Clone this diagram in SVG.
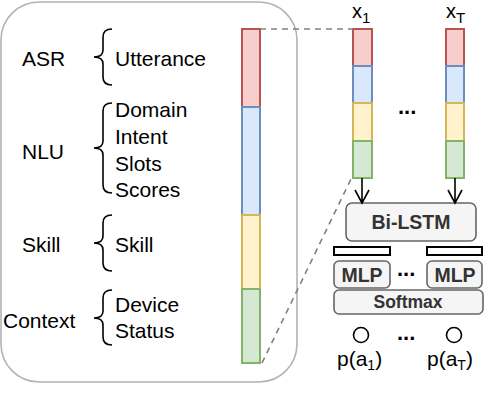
<svg xmlns="http://www.w3.org/2000/svg" width="484" height="416" viewBox="0 0 484 416">
<style>
text{font-family:"Liberation Sans",Arial,sans-serif;fill:#000}
.lbl{font-size:21px}
.xl{font-size:20px}
.b{font-weight:bold;fill:#333}
.red{fill:#f8cecc;stroke:#b85450;stroke-width:2}
.blue{fill:#dae8fc;stroke:#6c8ebf;stroke-width:2}
.yel{fill:#fff2cc;stroke:#d6b656;stroke-width:2}
.grn{fill:#d5e8d4;stroke:#82b366;stroke-width:2}
.brace{fill:none;stroke:#000;stroke-width:1.6}
.gbox{fill:#f5f5f5;stroke:#666;stroke-width:1.6}
.dash{fill:none;stroke:#808080;stroke-width:1.6;stroke-dasharray:6 5}
.arrow{fill:none;stroke:#000;stroke-width:1.6}
.dots{font-size:22px;font-weight:bold}
</style>

<g id="features">
<rect x="1" y="2" width="296" height="380" rx="38" ry="38" fill="#fff" stroke="#b3b3b3" stroke-width="1.6"/>
<text class="lbl" x="22" y="66">ASR</text>
<text class="lbl" x="22" y="159">NLU</text>
<text class="lbl" x="22" y="252">Skill</text>
<text class="lbl" x="3" y="328">Context</text>
<path class="brace" d="M112,29 Q103,29 103,37 L103,50 Q103,57 94,57 Q103,57 103,64 L103,77 Q103,85 112,85"/>
<path class="brace" d="M112,103 Q103,103 103,111 L103,141 Q103,148 94,148 Q103,148 103,155 L103,185 Q103,193 112,193"/>
<path class="brace" d="M112,215 Q103,215 103,223 L103,236 Q103,243 94,243 Q103,243 103,250 L103,263 Q103,271 112,271"/>
<path class="brace" d="M112,290 Q103,290 103,298 L103,311 Q103,318 94,318 Q103,318 103,325 L103,337 Q103,345 112,345"/>
<text class="lbl" x="115" y="66">Utterance</text>
<text class="lbl" x="115" y="117">Domain</text>
<text class="lbl" x="115" y="144">Intent</text>
<text class="lbl" x="115" y="171">Slots</text>
<text class="lbl" x="115" y="197">Scores</text>
<text class="lbl" x="115" y="252">Skill</text>
<text class="lbl" x="115" y="312">Device</text>
<text class="lbl" x="115" y="338">Status</text>
</g>

<g id="vector">
<rect class="red" x="242" y="29" width="18" height="78"/>
<rect class="blue" x="242" y="107" width="18" height="108"/>
<rect class="yel" x="242" y="215" width="18" height="74"/>
<rect class="grn" x="242" y="289" width="18" height="74"/>
</g>

<g id="x1">
<rect class="red" x="353" y="29" width="19" height="37"/>
<rect class="blue" x="353" y="66" width="19" height="37"/>
<rect class="yel" x="353" y="103" width="19" height="38"/>
<rect class="grn" x="353" y="141" width="19" height="37"/>
<text class="xl" x="352" y="18">x<tspan font-size="15" dy="5">1</tspan></text>
</g>

<g id="xT">
<rect class="red" x="446" y="29" width="18" height="37"/>
<rect class="blue" x="446" y="66" width="18" height="37"/>
<rect class="yel" x="446" y="103" width="18" height="38"/>
<rect class="grn" x="446" y="141" width="18" height="37"/>
<text class="xl" x="446" y="18">x<tspan font-size="15" dy="5">T</tspan></text>
</g>

<g id="dots">
<text class="dots" x="398" y="114">...</text>
<text class="dots" x="397" y="276">...</text>
<text class="dots" x="397" y="340">...</text>
</g>

<g id="bilstm">
<rect class="gbox" x="346" y="203" width="130" height="38" rx="6"/>
<text class="b" x="411" y="229" font-size="19.5" text-anchor="middle">Bi-LSTM</text>
</g>

<g id="hidden">
<rect x="334" y="247" width="56" height="8" fill="#fff" stroke="#000" stroke-width="2"/>
<rect x="427" y="247" width="55" height="8" fill="#fff" stroke="#000" stroke-width="2"/>
</g>

<g id="mlp1">
<rect class="gbox" x="334" y="261" width="56" height="27" rx="5"/>
<text class="b" x="362" y="282" font-size="19.5" text-anchor="middle">MLP</text>
</g>
<g id="mlp2">
<rect class="gbox" x="427" y="261" width="55" height="27" rx="5"/>
<text class="b" x="455" y="282" font-size="19.5" text-anchor="middle">MLP</text>
</g>

<g id="softmax">
<rect class="gbox" x="334" y="290" width="149" height="24" rx="5"/>
<text class="b" x="408" y="308" font-size="17.5" text-anchor="middle">Softmax</text>
</g>

<g id="out1">
<circle cx="361" cy="335" r="7.5" fill="#fff" stroke="#000" stroke-width="1.6"/>
<text class="lbl" x="337" y="366">p(a<tspan font-size="14" dy="4">1</tspan><tspan dy="-4">)</tspan></text>
</g>
<g id="outT">
<circle cx="454" cy="335" r="7.5" fill="#fff" stroke="#000" stroke-width="1.6"/>
<text class="lbl" x="427" y="366">p(a<tspan font-size="14" dy="4">T</tspan><tspan dy="-4">)</tspan></text>
</g>

<g id="connectors">
<path class="dash" d="M260,29 L353,29"/>
<path class="dash" d="M262,363 L351,179"/>
<path class="arrow" d="M362,178 L362,203 M355,190 L362,203 L369,190"/>
<path class="arrow" d="M455,178 L455,203 M448,190 L455,203 L462,190"/>
</g>
</svg>
